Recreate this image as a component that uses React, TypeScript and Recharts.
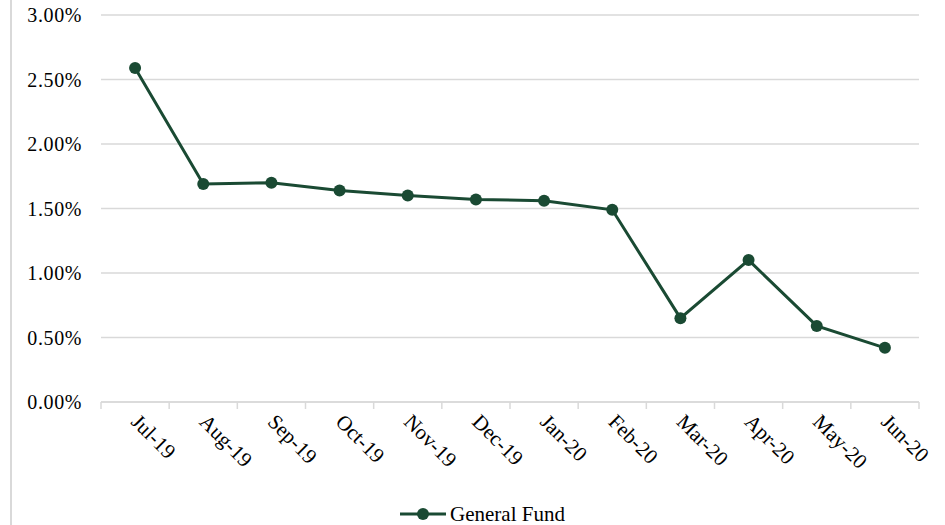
import React from 'react';
import {
  LineChart,
  Line,
  XAxis,
  YAxis,
  CartesianGrid,
  Legend,
} from 'recharts';

const months = [
  'Jul-19', 'Aug-19', 'Sep-19', 'Oct-19', 'Nov-19', 'Dec-19',
  'Jan-20', 'Feb-20', 'Mar-20', 'Apr-20', 'May-20', 'Jun-20',
];
const generalFund = [2.59, 1.69, 1.70, 1.64, 1.60, 1.57, 1.56, 1.49, 0.65, 1.10, 0.59, 0.42];
const yTicks = [0, 0.5, 1, 1.5, 2, 2.5, 3];

const data = months.map((m, i) => ({ month: m, fund: generalFund[i] }));

const GREEN = '#1a4a33';
const GRID = '#d9d9d9';
const FONT = '"Liberation Serif", "Times New Roman", serif';
const BAND = 818 / 12;

const MonthTick = (props: any) => {
  const { x, y, index } = props;
  const half = BAND / 2;
  const isLast = index === months.length - 1;
  return (
    <g>
      <line x1={x - half} y1={y - 8} x2={x - half} y2={y - 1} stroke={GRID} strokeWidth={1.5} />
      {isLast && (
        <line x1={x + half} y1={y - 8} x2={x + half} y2={y - 1} stroke={GRID} strokeWidth={1.5} />
      )}
      <text
        x={0}
        y={0}
        transform={`translate(${x - 5},${y + 13}) rotate(45)`}
        textAnchor="start"
        fontFamily={FONT}
        fontSize={21}
        fill="#000"
      >
        {props.payload.value}
      </text>
    </g>
  );
};

const FundLegend = () => (
  <div style={{ width: 945, display: 'flex', justifyContent: 'center', paddingLeft: 20, boxSizing: 'border-box', height: 22, alignItems: 'center' }}>
    <svg width={46} height={16}>
      <line x1={0} y1={8} x2={46} y2={8} stroke={GREEN} strokeWidth={3} />
      <circle cx={23} cy={8} r={6} fill={GREEN} />
    </svg>
    <span style={{ fontFamily: FONT, fontSize: 21, lineHeight: 1, color: '#000', marginLeft: 4 }}>General Fund</span>
  </div>
);

export default function App() {
  return (
    <div style={{ position: 'absolute', left: 0, top: 0, width: 945, height: 525, background: '#fff', overflow: 'hidden' }}>
      <div style={{ position: 'absolute', left: 10, top: 0, width: 2, height: 525, background: GRID }} />
      <LineChart
        width={945}
        height={525}
        data={data}
        margin={{ top: 15, right: 26, left: 0, bottom: 0 }}
      >
        <CartesianGrid vertical={false} stroke={GRID} strokeWidth={1.5} />
        <XAxis
          dataKey="month"
          tick={<MonthTick />}
          tickLine={false}
          axisLine={{ stroke: GRID, strokeWidth: 1.5 }}
          height={101}
          interval={0}
          padding={{ left: BAND / 2, right: BAND / 2 }}
        />
        <YAxis
          domain={[0, 3]}
          ticks={yTicks}
          width={101}
          axisLine={false}
          tickLine={false}
          tickFormatter={(v: number) => `${v.toFixed(2)}%`}
          tick={{ fontFamily: FONT, fontSize: 20, fill: '#000', letterSpacing: 0.6 }}
          tickMargin={13}
        />
        <Legend
          verticalAlign="bottom"
          height={22}
          content={<FundLegend />}
          wrapperStyle={{ left: 0, bottom: 0, width: 945 }}
        />
        <Line
          type="linear"
          dataKey="fund"
          name="General Fund"
          stroke={GREEN}
          strokeWidth={3}
          dot={{ r: 6, fill: GREEN, stroke: GREEN, strokeWidth: 0 }}
          activeDot={false}
          isAnimationActive={false}
        />
      </LineChart>
    </div>
  );
}
